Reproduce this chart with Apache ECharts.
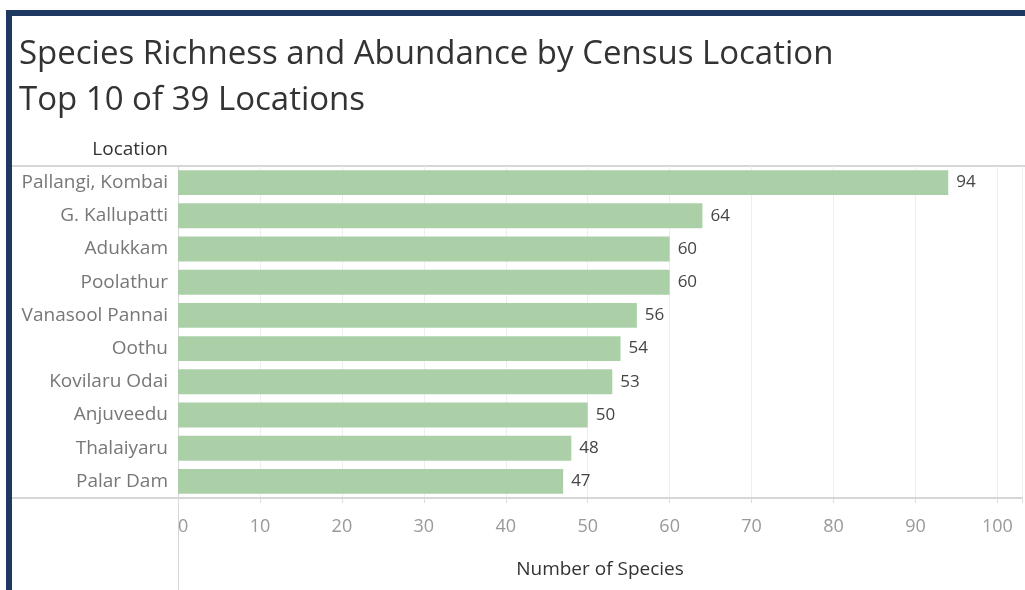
<!DOCTYPE html>
<html>
<head>
<meta charset="utf-8">
<script src="https://cdn.jsdelivr.net/npm/echarts@6/dist/echarts.min.js"></script>
<style>
  html, body { margin: 0; padding: 0; background: #fff; }
  #chart { width: 1025px; height: 590px; }
</style>
</head>
<body>
<div id="chart"></div>
<script>
// top 10 census locations
const locations = ['Pallangi, Kombai', 'G. Kallupatti', 'Adukkam', 'Poolathur', 'Vanasool Pannai',
  'Oothu', 'Kovilaru Odai', 'Anjuveedu', 'Thalaiyaru', 'Palar Dam']
const speciesCount = [94, 64, 60, 60, 56, 54, 53, 50, 48, 47]
const xTicks = [0, 10, 20, 30, 40, 50, 60, 70, 80, 90, 100]

const font = 'Open Sans'
const navy = '#1d3961'
const rule = '#d6d6d6'

const chart = echarts.init(document.getElementById('chart'))

chart.setOption({
  animation: false,
  textStyle: { fontFamily: font },
  title: {
    text: 'Species Richness and Abundance by Census Location\nTop 10 of 39 Locations',
    left: 14,
    top: 27,
    textStyle: { fontSize: 33, fontWeight: 'normal', color: '#333', lineHeight: 46, fontFamily: font }
  },
  grid: { left: 178, right: 0, top: 166, bottom: 92, containLabel: false },
  xAxis: {
    type: 'value',
    min: 0,
    max: 103,
    interval: 10,
    name: 'Number of Species',
    nameLocation: 'middle',
    nameGap: 62,
    nameTextStyle: { fontSize: 19, color: '#333', fontFamily: font },
    axisLine: { show: true, lineStyle: { color: rule, width: 2 } },
    axisTick: { show: true, length: 5, lineStyle: { color: '#ddd' } },
    axisLabel: {
      fontSize: 18,
      color: '#999',
      margin: 20,
      alignMinLabel: 'left',
      formatter: v => (xTicks.indexOf(v) >= 0 ? String(v) : '')
    },
    splitLine: { show: true, lineStyle: { color: '#eeeeee' } }
  },
  yAxis: {
    type: 'category',
    data: locations,
    inverse: true,
    axisLine: { show: true, lineStyle: { color: rule, width: 1 } },
    axisTick: { show: false },
    axisLabel: { fontSize: 19, color: '#777', margin: 10 }
  },
  series: [{
    type: 'bar',
    data: speciesCount,
    barCategoryGap: '25%',
    itemStyle: { color: '#abd0a8' },
    label: {
      show: true,
      position: 'right',
      distance: 8,
      fontSize: 17,
      color: '#444',
      fontFamily: font
    },
    z: 1
  }],
  graphic: [
    // dashboard frame
    { type: 'rect', shape: { x: 6, y: 10, width: 6, height: 590 }, style: { fill: navy }, silent: true },
    { type: 'rect', shape: { x: 6, y: 10, width: 1025, height: 6 }, style: { fill: navy }, silent: true },
    // header / footer rules
    { type: 'line', shape: { x1: 12, y1: 166, x2: 1025, y2: 166 }, style: { stroke: rule, lineWidth: 2 }, silent: true },
    { type: 'line', shape: { x1: 12, y1: 498, x2: 178, y2: 498 }, style: { stroke: rule, lineWidth: 2 }, silent: true },
    { type: 'line', shape: { x1: 178.5, y1: 498, x2: 178.5, y2: 590 }, style: { stroke: rule, lineWidth: 1 }, silent: true },
    {
      type: 'text', right: 1025 - 168, top: 140,
      style: { text: 'Location', fontSize: 19, fill: '#333', fontFamily: font, textAlign: 'right' },
      silent: true
    }
  ]
})
</script>
</body>
</html>
